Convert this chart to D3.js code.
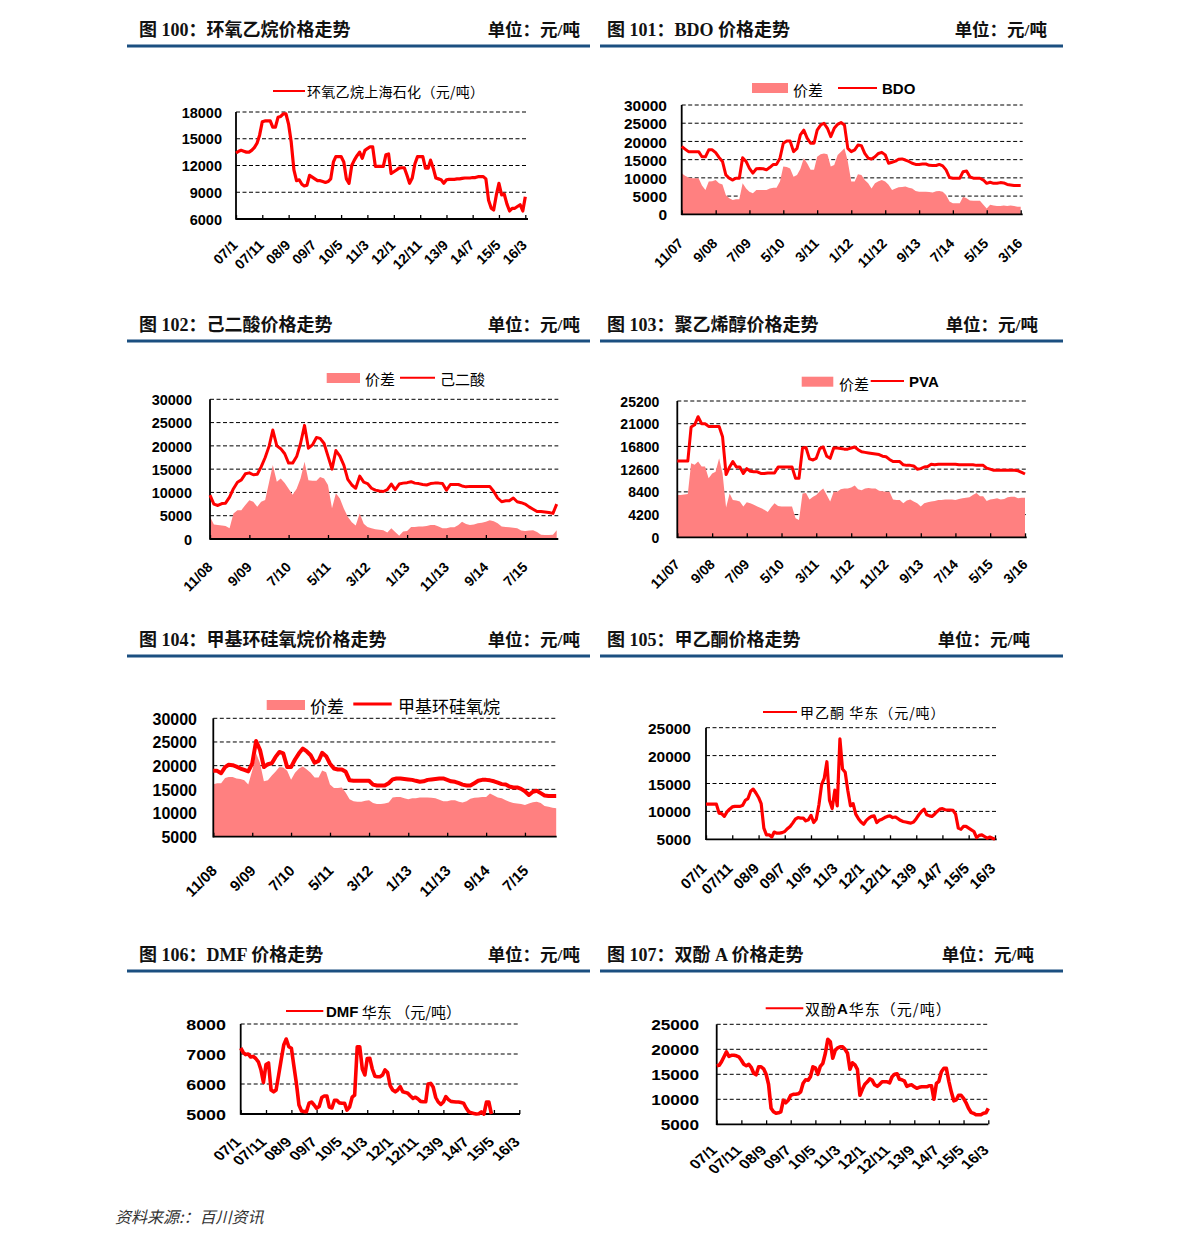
<!DOCTYPE html>
<html>
<head>
<meta charset="utf-8">
<title>化工品价格走势</title>
<script src="https://cdn.jsdelivr.net/npm/d3@7/dist/d3.min.js"></script>
<style>
html,body{margin:0;padding:0;background:#fff;}
svg{display:block;}
</style>
</head>
<body>
<svg id="chart" width="1191" height="1249"></svg>
<script>
// ---------------- text ----------------
const titles = ["图 100：环氧乙烷价格走势", "图 101：BDO 价格走势", "图 102：己二酸价格走势", "图 103：聚乙烯醇价格走势",
                "图 104：甲基环硅氧烷价格走势", "图 105：甲乙酮价格走势", "图 106：DMF 价格走势", "图 107：双酚 A 价格走势"];
const unitLabel = "单位：元/吨";
const sourceNote = "资料来源:：百川资讯";

// ---------------- x tick labels ----------------
const ticksA = ["07/1","07/11","08/9","09/7","10/5","11/3","12/1","12/11","13/9","14/7","15/5","16/3"]; // yy/m
const ticksB = ["11/07","9/08","7/09","5/10","3/11","1/12","11/12","9/13","7/14","5/15","3/16"];      // m/yy
const ticksC = ["11/08","9/09","7/10","5/11","3/12","1/13","11/13","9/14","7/15"];                     // m/yy

// ---------------- y tick values ----------------
const yTicks100 = [6000,9000,12000,15000,18000];
const yTicks101 = [0,5000,10000,15000,20000,25000,30000];
const yTicks102 = [0,5000,10000,15000,20000,25000,30000];
const yTicks103 = [0,4200,8400,12600,16800,21000,25200];
const yTicks104 = [5000,10000,15000,20000,25000,30000];
const yTicks105 = [5000,10000,15000,20000,25000];
const yTicks106 = [5000,6000,7000,8000];
const yTicks107 = [5000,10000,15000,20000,25000];

// ---------------- series (monthly values, 元/吨) ----------------
// 图100 环氧乙烷上海石化, 2007-01 .. 2016-03
const eo100 = [13400,13600,13700,13600,13500,13500,13700,14000,14500,15400,
  16900,17000,17000,17000,16300,16300,17400,17500,17800,17800,
  16600,14600,11500,10300,10400,9900,9700,9800,10900,10700,
  10500,10300,10300,10200,10100,10200,10500,12400,13000,13000,
  13000,12400,10500,10000,12000,12600,13100,13500,12800,13700,
  13900,14100,14100,11900,11900,11900,11900,13200,13300,11100,
  11300,11500,11700,11750,11750,10900,10000,10600,12200,13000,
  13000,13000,11700,11700,12600,11700,10600,10500,10400,10000,
  10400,10450,10450,10450,10500,10500,10550,10600,10600,10600,
  10650,10650,10750,10750,10750,10500,8100,7200,7000,8700,
  10000,8700,8800,7700,6900,7200,7200,7400,7600,6900,
  8500];

// 图101 BDO, 2007-11 .. 2016-03
const bdo101 = [18600,17900,17200,17200,17200,17200,15800,15800,17700,17700,
  16900,15600,14500,10800,9900,9400,9900,9900,15500,14500,
  12600,11300,12500,12600,12500,12200,12900,13700,13700,15400,
  19500,20100,20100,17200,18100,21800,23100,20900,19500,19500,
  23100,24500,25000,23600,21300,23600,24700,25200,24500,18100,
  17200,17700,19000,18850,16700,15400,15200,15800,16700,17000,
  16300,14000,14300,14600,15100,15200,14900,14500,14000,13700,
  13700,13800,13800,13450,13400,13400,13700,13300,12200,10100,
  9900,9900,9900,11700,11900,10300,9900,9900,9900,9400,
  8500,8800,8500,8500,8700,8600,8200,8050,7900,7900,
  7900];
const spread101 = [11300,10600,10100,9900,9900,9900,7900,6700,9000,9100,
  9400,8500,8200,5300,4400,3900,4100,4100,8500,7100,
  6200,5800,6700,6700,6700,6700,7100,7300,7300,9000,
  13100,13000,12600,10300,10800,12400,15400,14000,12200,12200,
  15800,16500,16700,16500,13100,13500,16300,17200,18100,14500,
  9000,9000,11000,10800,9400,8500,7100,8500,9100,9400,
  9000,8100,6700,7100,7400,7500,7600,7300,7100,6400,
  6200,6200,6200,6100,6000,6300,6400,6200,5300,3500,
  3000,3000,3000,4800,4400,3800,3700,3700,3700,2600,
  1600,2600,2400,2300,2300,2400,2300,2400,2300,2100,
  2100];

// 图102 己二酸, 2008-11 .. 2016-03
const adipic102 = [9400,7500,7200,7600,7700,9000,10800,12200,12700,14000,
  14200,13800,13900,15500,17500,20000,23400,20000,19400,18300,
  16300,16300,17700,20500,24400,19500,20200,21800,21600,20500,
  17800,15000,19000,17800,15800,12800,11600,10900,13500,12200,
  11900,10900,10500,10300,10200,10600,11800,10600,11800,12000,
  12100,12300,12000,11900,11700,11600,11900,12000,12000,11900,
  10500,11700,11700,11700,11400,11200,11300,11300,11300,11300,
  11300,11300,10200,8800,8000,8200,8200,8800,8000,7800,
  7500,6900,6400,5900,5900,5800,5700,5500,7500];
const spread102 = [4800,3100,3000,2900,2800,2300,5500,6200,6200,7300,
  8300,8000,6900,8000,8400,12300,15900,12300,13000,12000,
  10800,9500,10800,13000,16600,12600,12500,12500,13300,13000,
  11600,6600,9800,8700,6500,4800,3600,2900,5500,3300,
  2600,2300,2100,2000,1900,1400,2300,1500,700,1600,
  1700,2600,2600,2700,2700,2800,3000,3000,2700,2300,
  2300,2500,2500,3000,3700,3200,3000,3100,3400,3500,
  3700,4000,3800,3400,2700,2600,2500,2400,2300,1800,
  1700,1800,1900,1500,900,850,850,900,1900];

// 图103 PVA, 2007-11 .. 2016-03
const pva103 = [14100,14100,14100,14100,20400,20800,22300,21000,21000,20500,
  20500,20500,20500,18600,11600,13000,14000,13000,13000,11800,
  12700,12200,12100,12100,11800,11800,11900,11900,11900,13000,
  13000,13000,13000,13000,10900,10900,16500,16600,14500,14300,
  14600,16400,16700,15000,14600,16500,16500,16400,16300,16300,
  16500,16700,16200,15800,15700,15600,15500,15400,15300,15000,
  14900,14400,14000,14000,14000,13400,13300,13300,13200,12600,
  12700,13000,13100,13500,13400,13500,13500,13500,13500,13500,
  13500,13400,13400,13400,13400,13400,13300,13300,13300,12800,
  12600,12400,12400,12400,12400,12400,12400,12400,12300,12000,
  11700];
const spread103 = [7800,7800,7900,8000,13700,13400,14000,13100,13100,10900,
  11800,12100,14600,11800,5500,8100,6900,6800,6600,5700,
  6500,6300,6000,5700,5400,5100,4700,5600,6300,5800,
  5700,5700,5700,5700,3500,3200,8100,8200,7000,7500,
  7800,8500,9000,7800,6600,8400,8400,8900,9000,9000,
  9200,9600,8900,8700,9000,9100,9000,9000,8600,8500,
  8400,8400,7000,6900,6900,6300,6800,7000,6600,6300,
  5700,6300,6500,6600,6700,6900,6900,7000,7000,7000,
  6900,7100,7200,7300,7400,7800,8200,7600,7600,6700,
  7000,7100,7200,7000,7100,7400,7500,7500,7200,7300,
  7300];

// 图104 甲基环硅氧烷, 2008-11 .. 2016-03
const siloxane104 = [18900,18900,18400,19700,20200,20100,19800,19400,19100,18800,
  20500,25200,23300,19700,20300,20500,21800,22900,22600,19700,
  19700,21300,22600,23600,23000,22200,20600,21000,22700,22000,
  20400,19400,19200,19200,18700,16900,16800,16800,16800,16800,
  16800,16000,15800,15800,15800,16300,17100,17300,17300,17200,
  17100,17000,16800,16600,16700,17000,17100,17200,17300,17300,
  17000,16700,16600,16300,16000,15800,15800,16300,16800,17000,
  17000,16900,16700,16400,16100,16000,15600,15400,15400,15100,
  14600,13800,14500,14700,14200,13700,13600,13600,13600];
const spread104 = [16100,16300,16300,17400,17600,17600,17300,17200,16900,16000,
  19000,22600,20500,16700,16900,17900,18700,19700,19600,18900,
  17000,18500,19400,19800,19200,18500,17500,17500,19000,18600,
  16000,15300,15300,15400,14300,12900,12500,12400,12400,12600,
  12700,12100,11900,11900,12000,12200,13300,13400,13400,13100,
  12900,13100,13100,13300,13300,13300,13200,13100,12800,12500,
  12500,12700,12700,12400,12200,12500,13000,13200,13300,13400,
  13400,14100,13700,13300,13100,12700,12400,12100,12000,11900,
  11700,12000,12300,12400,12100,11500,11300,11100,11000];

// 图105 甲乙酮华东, 2007-01 .. 2016-03
const mek105 = [11300,11300,11300,11300,11300,9700,9600,9100,9900,10400,
  10800,10900,10900,10900,11100,12000,12300,13600,14000,13300,
  12500,11400,7000,5800,5800,5400,6300,6100,6100,6200,
  6400,6900,7300,7900,8600,8900,8800,8800,8300,8500,
  9300,8000,8600,11200,14800,15900,18900,12000,10500,13800,
  11000,23000,17600,17000,13800,11000,11400,9500,8700,8100,
  7700,8400,8800,9100,9200,8000,8400,8600,8900,9100,
  9200,8900,9000,8700,8400,8200,8100,8000,7900,8100,
  8700,9400,10000,10400,9400,9200,9100,9500,10000,10400,
  10500,10300,10250,10250,10200,9500,7000,6800,7300,7300,
  7000,6700,6400,5300,5700,5800,5500,5200,5400,5200,
  5000];

// 图106 DMF华东, 2007-01 .. 2016-03 (no data after 2015-04)
const dmf106 = [7200,7050,6980,7000,6900,6920,6850,6740,6480,6050,
  6650,6700,5800,5740,5800,6300,6800,7300,7500,7240,
  7190,6600,6000,5300,5100,5080,5080,5360,5400,5300,
  5190,5250,5550,5600,5600,5230,5200,5460,5460,5370,
  5360,5360,5130,5230,5560,5630,7240,7240,6500,6300,
  6850,6860,6500,6260,6240,6240,6300,6470,6380,5950,
  5800,5740,5800,5910,5740,5720,5690,5600,5520,5560,
  5500,5420,5410,5410,6000,6020,5900,5550,5400,5320,
  5400,5580,5480,5420,5410,5400,5400,5380,5360,5200,
  5080,5040,5020,5000,5010,5070,5000,5400,5400,5000,
  null,null,null,null,null,null,null,null,null,null,
  null];

// 图107 双酚A华东, 2007-01 .. 2016-03
const bpa107 = [16700,16800,17500,18500,19500,18600,18800,18800,18700,18500,
  17800,17000,16700,17000,16400,15200,14900,16500,16500,16100,
  15000,13000,8200,7500,7200,7300,7500,9800,9300,9800,
  10800,11000,11000,11100,11500,13200,13900,13800,14500,16500,
  16300,15000,16600,17200,19200,22000,21500,18200,19800,20300,
  20500,20500,20000,19200,16000,17300,16900,16000,10800,12000,
  13000,13500,14100,13800,12900,12600,13000,13500,13500,13500,
  13300,14500,15000,15100,14000,13900,13700,12600,12800,12900,
  12500,12200,12400,12500,12500,12500,12700,12700,10000,13200,
  13600,15500,16200,16200,13600,11500,9700,9900,10800,10800,
  10200,9300,8200,7400,7200,6900,6900,6900,7200,7300,
  8200];

// ---------------- rendering ----------------
const RED = "#FF0000", PINK = "#FF8080", RULE = "#1B4F80";
const SANS = "'Liberation Sans', Arial, 'Noto Sans CJK SC', sans-serif";
const CJK = "'Noto Sans CJK SC', 'Liberation Sans', sans-serif";
const SERIF = "'Liberation Serif', 'Noto Sans CJK SC', serif";
const svg = d3.select("#chart");

const parseYM = s => { const [a, b] = s.split("/").map(Number); return new Date(2000 + a, b - 1, 1); };
const parseMY = s => { const [a, b] = s.split("/").map(Number); return new Date(2000 + b, a - 1, 1); };

// header rows
const rowOffsets = [0, 295, 610, 925];
const unitRight = [580, 1047, 580, 1038, 580, 1030, 580, 1034];
titles.forEach((t, i) => {
  const row = Math.floor(i / 2), left = i % 2 === 0;
  const yb = 35.5 + rowOffsets[row];
  svg.append("text").attr("x", left ? 139 : 607).attr("y", yb)
    .attr("font-family", SERIF).attr("font-weight", "bold").attr("font-size", 18).attr("fill", "#111").text(t);
  svg.append("text").attr("x", unitRight[i]).attr("y", yb).attr("text-anchor", "end")
    .attr("font-family", SERIF).attr("font-weight", "bold").attr("font-size", 17.5).attr("fill", "#111").text(unitLabel);
  svg.append("line").attr("x1", left ? 127 : 600).attr("x2", left ? 590 : 1063)
    .attr("y1", 46 + rowOffsets[row]).attr("y2", 46 + rowOffsets[row])
    .attr("stroke", RULE).attr("stroke-width", 3);
});

function drawPanel(c) {
  const g = svg.append("g");
  const x = d3.scaleTime().domain([c.start, d3.timeMonth.offset(c.start, c.months)]).range([c.x0, c.x1]);
  const y = d3.scaleLinear().domain([c.yTicks[0], c.yTicks[c.yTicks.length - 1]]).range([c.yBot, c.yTop]);
  const monthOf = i => d3.timeMonth.offset(c.start, i);

  // dashed grid
  g.append("g").selectAll("line").data(c.yTicks.slice(1)).join("line")
    .attr("x1", c.x0).attr("x2", c.xEnd).attr("y1", d => y(d)).attr("y2", d => y(d))
    .attr("stroke", "#000").attr("stroke-width", 1).attr("stroke-dasharray", "4,2.5");

  // spread area
  if (c.area) {
    const ad = c.area.map((v, i) => ({ d: monthOf(i), v }));
    g.append("path").datum(ad).attr("fill", PINK)
      .attr("d", d3.area().x(p => x(p.d)).y0(c.yBot).y1(p => y(p.v)));
  }

  // y axis labels
  const yg = g.append("g").attr("transform", `translate(${c.x0},0)`)
    .call(d3.axisLeft(y).tickValues(c.yTicks).tickSize(0).tickFormat(d3.format("d")));
  yg.select(".domain").remove();
  yg.selectAll(".tick line").remove();
  yg.selectAll("text").attr("x", 0).attr("dy", "0.36em")
    .attr("transform", `translate(${-(c.x0 - c.yLabelRight)},0) scale(${c.ySx || 1},1)`)
    .attr("font-family", SANS).attr("font-weight", "bold").attr("font-size", c.yFont).attr("fill", "#000");

  // x axis
  const tickDates = c.tickLabels.map(c.parse);
  const xg = g.append("g").attr("transform", `translate(0,${c.yBot})`)
    .call(d3.axisBottom(x).tickValues(tickDates).tickFormat((d, i) => c.tickLabels[i]).tickSizeInner(-4).tickSizeOuter(0));
  xg.select(".domain").remove();
  xg.selectAll(".tick line").attr("stroke", "#000").attr("stroke-width", 1.3);
  xg.selectAll("text").attr("x", 0).attr("y", 0).attr("dy", 0).attr("text-anchor", "end")
    .attr("transform", `translate(${c.lx},${c.ly}) scale(${c.xSx || 1},1) rotate(-45)`)
    .attr("font-family", SANS).attr("font-weight", "bold").attr("font-size", c.xFont).attr("fill", "#000");

  // axis lines
  g.append("line").attr("x1", c.x0).attr("x2", c.x0).attr("y1", c.yTop).attr("y2", c.yBot + 0.8)
    .attr("stroke", "#000").attr("stroke-width", 1.8);
  g.append("line").attr("x1", c.x0).attr("x2", c.xEnd).attr("y1", c.yBot).attr("y2", c.yBot)
    .attr("stroke", "#000").attr("stroke-width", 1.8);

  // price line
  const ld = c.line.map((v, i) => ({ d: monthOf(i), v }));
  g.append("path").datum(ld).attr("fill", "none").attr("stroke", RED)
    .attr("stroke-width", c.lw).attr("stroke-linejoin", "round")
    .attr("d", d3.line().defined(p => p.v != null).x(p => x(p.d)).y(p => y(p.v)));

  // legend
  c.legend.forEach(it => {
    if (it.type === "rect") {
      g.append("rect").attr("x", it.x).attr("y", it.y).attr("width", it.w).attr("height", it.h).attr("fill", PINK);
    } else if (it.type === "line") {
      g.append("line").attr("x1", it.x1).attr("x2", it.x2).attr("y1", it.y).attr("y2", it.y)
        .attr("stroke", RED).attr("stroke-width", it.sw || 2);
    } else {
      const t = g.append("text").attr("x", it.x).attr("y", it.y).attr("dominant-baseline", "central")
        .attr("font-size", it.fs).attr("fill", "#000").attr("letter-spacing", it.ls || 0);
      it.parts.forEach(p => t.append("tspan").attr("font-family", p.b ? SANS : CJK)
        .attr("font-weight", p.b ? "bold" : "normal").text(p.t));
    }
  });
}

const panels = [
  { start: new Date(2007,0,1), months: 110, x0: 236, x1: 525.3, xEnd: 528, yTop: 112, yBot: 219,
    yTicks: yTicks100, yLabelRight: 222, yFont: 14.5, tickLabels: ticksA, parse: parseYM, xFont: 14, lx: 2, ly: 27,
    line: eo100, lw: 3.2,
    legend: [{type:"line", x1:273, x2:305, y:91},
             {type:"text", x:307, y:91, fs:14, ls:0.3, parts:[{t:"环氧乙烷上海石化（元/吨）"}]}] },
  { start: new Date(2007,10,1), months: 100, x0: 681.7, x1: 1020.7, xEnd: 1022.7, yTop: 105, yBot: 214.3,
    yTicks: yTicks101, yLabelRight: 667, yFont: 15.5, tickLabels: ticksB, parse: parseMY, xFont: 14, lx: 2, ly: 30,
    line: bdo101, area: spread101, lw: 3,
    legend: [{type:"rect", x:752, y:83, w:36, h:10},
             {type:"text", x:793, y:89, fs:15, parts:[{t:"价差"}]},
             {type:"line", x1:838, x2:877, y:88},
             {type:"text", x:882, y:88, fs:15, parts:[{t:"BDO", b:true}]}] },
  { start: new Date(2008,10,1), months: 88, x0: 210, x1: 556.7, xEnd: 558.3, yTop: 399.3, yBot: 539,
    yTicks: yTicks102, yLabelRight: 192, yFont: 14.5, tickLabels: ticksC, parse: parseMY, xFont: 14, lx: 3, ly: 29,
    line: adipic102, area: spread102, lw: 3,
    legend: [{type:"rect", x:326.7, y:373, w:33.3, h:10},
             {type:"text", x:365, y:378, fs:15, parts:[{t:"价差"}]},
             {type:"line", x1:400, x2:435, y:377.7},
             {type:"text", x:440, y:378, fs:15, parts:[{t:"己二酸"}]}] },
  { start: new Date(2007,10,1), months: 100, x0: 677.3, x1: 1025, xEnd: 1026.7, yTop: 401, yBot: 537.3,
    yTicks: yTicks103, yLabelRight: 659.3, yFont: 14, tickLabels: ticksB, parse: parseMY, xFont: 14, lx: 3, ly: 28,
    line: pva103, area: spread103, lw: 3,
    legend: [{type:"rect", x:801.7, y:376.7, w:31.6, h:10},
             {type:"text", x:839, y:383, fs:15, parts:[{t:"价差"}]},
             {type:"line", x1:870.7, x2:904, y:381},
             {type:"text", x:909, y:381, fs:15, parts:[{t:"PVA", b:true}]}] },
  { start: new Date(2008,10,1), months: 88, x0: 213.3, x1: 556.2, xEnd: 556.7, yTop: 718.3, yBot: 836.7,
    yTicks: yTicks104, yLabelRight: 197, yFont: 16, tickLabels: ticksC, parse: parseMY, xFont: 15, lx: 4, ly: 35,
    line: siloxane104, area: spread104, lw: 4,
    legend: [{type:"rect", x:266.7, y:700, w:38.3, h:10},
             {type:"text", x:310, y:705, fs:17, parts:[{t:"价差"}]},
             {type:"line", x1:353.3, x2:391.7, y:704, sw:3},
             {type:"text", x:398, y:705, fs:17, parts:[{t:"甲基环硅氧烷"}]}] },
  { start: new Date(2007,0,1), months: 110, x0: 706, x1: 995, xEnd: 996.7, yTop: 727.7, yBot: 839.3,
    yTicks: yTicks105, yLabelRight: 691, yFont: 15.5, tickLabels: ticksA, parse: parseYM, xFont: 15, lx: 1, ly: 30,
    line: mek105, lw: 3.2,
    legend: [{type:"line", x1:763, x2:797, y:712},
             {type:"text", x:800, y:712, fs:14, ls:1, parts:[{t:"甲乙酮 华东（元/吨）"}]}] },
  { start: new Date(2007,0,1), months: 110, x0: 240.7, x1: 519.3, xEnd: 520, yTop: 1024, yBot: 1114,
    yTicks: yTicks106, yLabelRight: 226, yFont: 14, ySx: 1.28, tickLabels: ticksA, parse: parseYM,
    xFont: 13.5, xSx: 1.2, lx: 1, ly: 29,
    line: dmf106, lw: 3.6,
    legend: [{type:"line", x1:286, x2:323.3, y:1011},
             {type:"text", x:326, y:1011, fs:15, parts:[{t:"DMF", b:true}, {t:" 华东 （元/吨）"}]}] },
  { start: new Date(2007,0,1), months: 110, x0: 716.7, x1: 988.3, xEnd: 988.3, yTop: 1024.3, yBot: 1124.3,
    yTicks: yTicks107, yLabelRight: 699, yFont: 14, ySx: 1.23, tickLabels: ticksA, parse: parseYM,
    xFont: 13.5, xSx: 1.2, lx: 1, ly: 27,
    line: bpa107, lw: 3.6,
    legend: [{type:"line", x1:765.7, x2:803.3, y:1008.3},
             {type:"text", x:805, y:1008, fs:15, ls:1, parts:[{t:"双酚"}, {t:"A", b:true}, {t:"华东（元/吨）"}]}] }
];
panels.forEach(drawPanel);

// source note
svg.append("text").attr("x", 115).attr("y", 1223).attr("font-family", CJK).attr("font-style", "italic")
  .attr("font-size", 16).attr("fill", "#333").text(sourceNote);
</script>
</body>
</html>
